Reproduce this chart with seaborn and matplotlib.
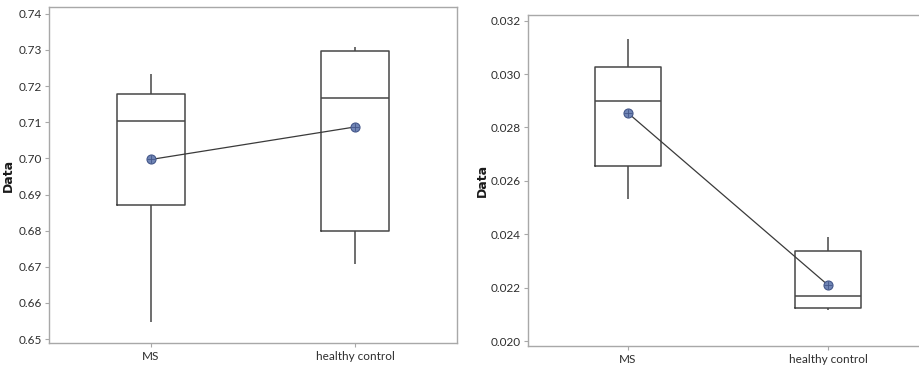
import numpy as np
import pandas as pd
import seaborn as sns
import matplotlib
matplotlib.use("Agg")
import matplotlib.pyplot as plt

# ---- data ----
groups = ["MS", "healthy control"]
# five-number summaries: [min, Q1, median, Q3, max]
left_ms = [0.6548, 0.6872, 0.7103, 0.7177, 0.7234]
left_hc = [0.6707, 0.6799, 0.7168, 0.7297, 0.7307]
left_means = [0.6997, 0.7087]
left_ticks = [0.65, 0.66, 0.67, 0.68, 0.69, 0.70, 0.71, 0.72, 0.73, 0.74]

right_ms = [0.02533, 0.02656, 0.02898, 0.03028, 0.03131]
right_hc = [0.02115, 0.02125, 0.02170, 0.02339, 0.02390]
right_means = [0.02854, 0.02210]
right_ticks = [0.020, 0.022, 0.024, 0.026, 0.028, 0.030, 0.032]

sns.set_style("white")
plt.rcParams["font.family"] = ["Lato", "DejaVu Sans"]

fig = plt.figure(figsize=(9.2, 3.67), dpi=100)
ax1 = fig.add_axes([49 / 920, 24 / 367, 408 / 920, 336 / 367])
ax2 = fig.add_axes([528 / 920, 21 / 367, 400 / 920, 331 / 367])

frame_col = "#a8a8a8"
box_col = "#474747"


def panel(ax, ms, hc, means, ticks, ylim, fmt):
    df = pd.DataFrame({
        "group": [groups[0]] * len(ms) + [groups[1]] * len(hc),
        "value": ms + hc,
    })
    sns.boxplot(data=df, x="group", y="value", order=groups, whis=(0, 100),
                width=0.33, fill=False, color=box_col, linewidth=1.1,
                showcaps=False, ax=ax)
    mdf = pd.DataFrame({"group": groups, "mean": means})
    sns.pointplot(data=mdf, x="group", y="mean", order=groups, errorbar=None,
                  color="#3a3a3a", markers="", linewidth=0.9, ax=ax)
    sns.pointplot(data=mdf, x="group", y="mean", order=groups, errorbar=None,
                  color="#7085b5", markers="o", linestyle="none",
                  markersize=6.5, markeredgecolor="#44578a",
                  markeredgewidth=0.8, ax=ax)
    sns.pointplot(data=mdf, x="group", y="mean", order=groups, errorbar=None,
                  color="#44578a", markers="+", linestyle="none",
                  markersize=6, markeredgewidth=0.6, ax=ax)
    ax.set_xlim(-0.5, 1.5)
    ax.set_ylim(*ylim)
    ax.set_yticks(ticks)
    ax.set_yticklabels([fmt.format(t) for t in ticks])
    ax.set_xlabel("")
    ax.set_ylabel("Data", fontsize=9, fontweight="bold",
                  family=["DejaVu Sans"], color="#1a1a1a")
    for s in ax.spines.values():
        s.set_color(frame_col)
        s.set_linewidth(1.0)
    ax.tick_params(axis="both", which="both", length=3, width=0.8,
                   color=frame_col, labelsize=8.5, labelcolor="#2e2e2e",
                   direction="out", left=True, bottom=True)
    ax.tick_params(axis="y", pad=2)
    ax.tick_params(axis="x", pad=3)


panel(ax1, left_ms, left_hc, left_means, left_ticks, (0.6489, 0.7419), "{:.2f}")
panel(ax2, right_ms, right_hc, right_means, right_ticks, (0.01982, 0.03221), "{:.3f}")
ax1.yaxis.set_label_coords(-0.083, 0.5)
ax2.yaxis.set_label_coords(-0.098, 0.5)

fig.savefig("out.png", dpi=100, facecolor="white")
